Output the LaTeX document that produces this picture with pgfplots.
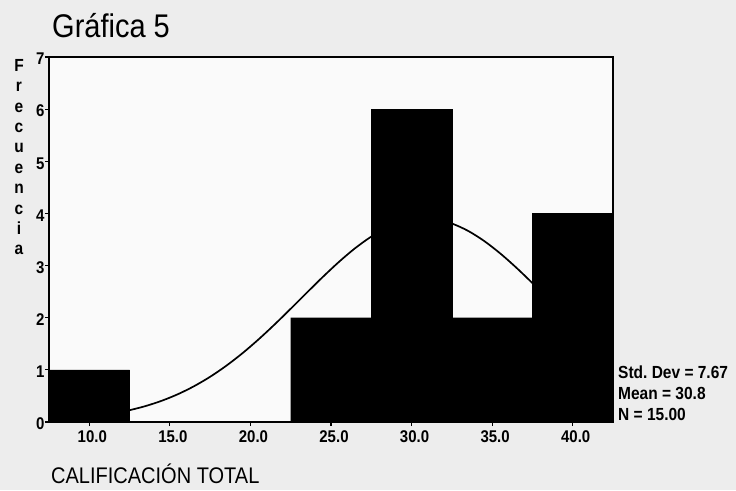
\documentclass[border=0pt]{standalone}
\usepackage{fontspec}
\setmainfont{Liberation Sans}
\usepackage{graphicx}
\usepackage{pgfplots}
\pgfplotsset{compat=1.18}
\newcommand{\St}[1]{\scalebox{1}[1.13]{#1}}
\begin{document}
\begin{tikzpicture}[x=1pt,y=1pt]
\fill[black!7] (-49,-68) rectangle (687,422);
\path[use as bounding box] (-49,-68) rectangle (687,422);
\begin{axis}[at={(0,0)}, anchor=south west, scale only axis,
  width=564pt, height=365pt,
  xmin=7.5, xmax=42.5, ymin=0, ymax=7,
  axis background/.style={fill=black!2},
  axis line style={line width=1.3pt},
  tick align=outside, tick pos=left, major tick length=4pt,
  tick style={line width=1.2pt, black},
  xtick={10,15,20,25,30,35,40},
  xticklabels={\St{10.0},\St{15.0},\St{20.0},\St{25.0},\St{30.0},\St{35.0},\St{40.0}},
  ytick={0,1,2,3,4,5,6,7},
  yticklabels={\St{0},\St{1},\St{2},\St{3},\St{4},\St{5},\St{6},\St{7}},
  x tick label style={font=\fontsize{15}{15}\selectfont\bfseries, xshift=3pt, yshift=-1pt},
  y tick label style={font=\fontsize{15}{15}\selectfont\bfseries, xshift=3pt, yshift=-2pt},
  clip=true]
\addplot[smooth, line width=1.7pt, black] coordinates {
(7.5,0.0387)(8.5,0.0570)(9.5,0.0825)(10.5,0.1175)(11.5,0.1645)(12.5,0.2265)
(13.5,0.3065)(14.5,0.4078)(15.5,0.5334)(16.5,0.6862)(17.5,0.8674)(18.5,1.0784)
(19.5,1.3178)(20.5,1.5833)(21.5,1.8703)(22.5,2.1722)(23.5,2.4801)(24.5,2.7841)
(25.5,3.0725)(26.5,3.3337)(27.5,3.5560)(28.5,3.7295)(29.5,3.8454)(30.5,3.8980)
(31.5,3.8848)(32.5,3.8064)(33.5,3.6666)(34.5,3.4725)(35.5,3.2332)(36.5,2.9598)
(37.5,2.6636)(38.5,2.3568)(39.5,2.0501)(40.5,1.7533)(41.5,1.4743)(42.5,1.2187)};
\addplot[ybar interval, fill=black, draw=black] coordinates {
(7.5,1)(12.5,0)(17.5,0)(22.5,2)(27.5,6)(32.5,2)(37.5,4)(42.5,4)};
\end{axis}
\node[anchor=base west, font=\fontsize{29}{29}\selectfont, inner sep=0pt] at (3,384) {\St{Gráfica 5}};
\node[anchor=north, align=center, inner sep=0pt, font=\fontsize{15.5}{20.4}\selectfont\bfseries] at (-30,363) {\St{F}\\\St{r}\\\St{e}\\\St{c}\\\St{u}\\\St{e}\\\St{n}\\\St{c}\\\St{i}\\\St{a}};
\node[anchor=base west, inner sep=0pt, font=\fontsize{20}{20}\selectfont] at (2,-61) {\St{CALIFICACIÓN TOTAL}};
\node[anchor=base west, align=left, inner sep=0pt, font=\fontsize{15.5}{20.8}\selectfont\bfseries] at (569,2) {\St{Std.\ Dev = 7.67}\\\St{Mean = 30.8}\\\St{N = 15.00}};
\end{tikzpicture}
\end{document}
